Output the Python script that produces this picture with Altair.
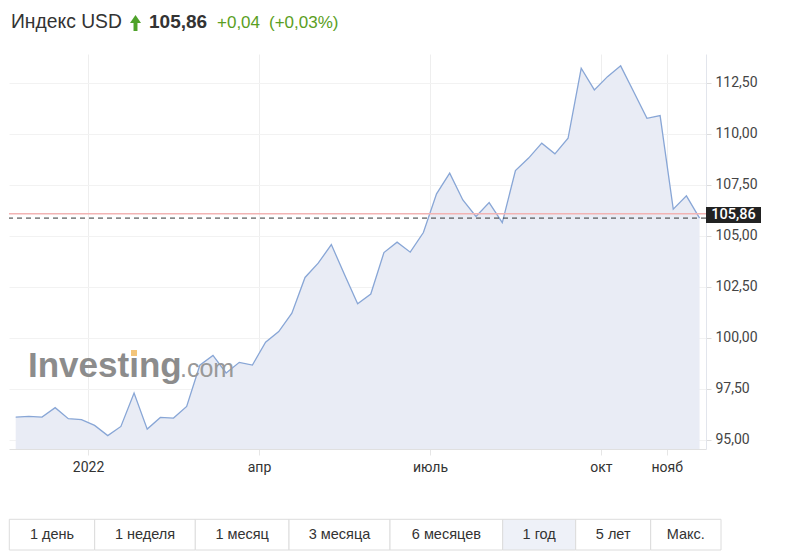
import altair as alt
import pandas as pd

# ---------------- data ----------------
usd_index = [96.11, 96.14, 96.11, 96.57, 96.03, 95.98, 95.70, 95.20, 95.65, 97.29,
             95.52, 96.09, 96.06, 96.63, 98.65, 99.13, 98.27, 98.79, 98.66, 99.78,
             100.30, 101.20, 102.95, 103.65, 104.56, 103.10, 101.66, 102.14, 104.17, 104.68,
             104.19, 105.15, 107.05, 108.06, 106.75, 105.94, 106.62, 105.64, 108.19, 108.80,
             109.53, 109.01, 109.77, 113.20, 112.14, 112.79, 113.32, 112.04, 110.75, 110.88,
             106.30, 106.95, 105.86]
week_index = list(range(len(usd_index)))
tick_pos = [5.5, 18.5, 31.5, 44.5, 49.5]
tick_labels = ["2022", "апр", "июль", "окт", "нояб"]
y_ticks = [95.0, 97.5, 100.0, 102.5, 105.0, 107.5, 110.0, 112.5]

title_name = "Индекс USD"
last_price = 105.86
change_abs = "+0,04"
change_pct = "(+0,03%)"
red_level = 106.07

periods = ["1 день", "1 неделя", "1 месяц", "3 месяца", "6 месяцев", "1 год", "5 лет", "Макс."]
selected_period = "1 год"

# ---------------- layout ----------------
W, H = 697, 395
OX, OY = 9, 54  # view origin on the page
button_edges = [9.3, 94.7, 195.3, 289, 390, 502.7, 575.7, 650.7, 721]
GREEN = "#5a9e22"

df = pd.DataFrame({"i": week_index, "v": usd_index})
xs = alt.Scale(domain=[-0.51, 52.49], nice=False, zero=False)
ys = alt.Scale(domain=[94.545, 113.9], nice=False, zero=False)

label_expr = " : ".join(f"datum.value == {p} ? '{l}'" for p, l in zip(tick_pos, tick_labels)) + " : ''"

area = alt.Chart(df).mark_area(
    color="#e9ecf5", fillOpacity=1, interpolate="linear",
    line={"color": "#88a6d6", "strokeWidth": 1.3},
).encode(
    x=alt.X("i:Q", scale=xs, axis=alt.Axis(
        values=tick_pos, labelExpr=label_expr, title=None, grid=True,
        gridColor="#eeeeee", domainColor="#e0e0e0", tickColor="#e6e6e6", tickSize=6,
        labelFont="Roboto", labelFontSize=14, labelColor="#333333", labelPadding=5,
        labelFlush=False, labelOverlap=False)),
    y=alt.Y("v:Q", scale=ys, stack=None, axis=alt.Axis(
        orient="right", values=y_ticks,
        labelExpr="replace(format(datum.value, '.2f'), '.', ',')",
        title=None, grid=True, gridColor="#f2f2f2", domainColor="#e2e5ec",
        tickColor="#dddddd", tickSize=5, labelPadding=4, labelFont="Roboto",
        labelFontSize=14, labelColor="#444444", labelFlush=False, labelOverlap=False)),
    y2=alt.value(H),
)

red_rule = alt.Chart(pd.DataFrame({"v": [red_level]})).mark_rule(
    color="#f2b3b3", strokeWidth=1.5).encode(y=alt.Y("v:Q", scale=ys))

dash_rule = alt.Chart(pd.DataFrame({"v": [last_price]})).mark_rule(
    color="#333333", strokeWidth=1, strokeDash=[5, 4]).encode(y=alt.Y("v:Q", scale=ys))

price_df = pd.DataFrame({"v": [last_price], "t": [f"{last_price:.2f}".replace(".", ",")]})
price_box = alt.Chart(price_df).mark_rect(
    color="#222222", yOffset=-11, y2Offset=5).encode(
    x=alt.value(706 - OX), x2=alt.value(761 - OX),
    y=alt.Y("v:Q", scale=ys), y2="v")
price_text = alt.Chart(price_df).mark_text(
    align="center", baseline="middle", dy=-3, color="white",
    font="Roboto", fontSize=14.5, fontWeight=500).encode(
    x=alt.value(733.5 - OX), y=alt.Y("v:Q", scale=ys), text="t:N")

one = pd.DataFrame({"a": [0]})


def label(txt, x, y, size, color, weight="normal", font="Liberation Sans", align="left"):
    return alt.Chart(one).mark_text(
        text=txt, align=align, baseline="alphabetic", fontSize=size, color=color,
        fontWeight=weight, font=font).encode(x=alt.value(x - OX), y=alt.value(y - OY))


titles = [
    label(title_name, 11, 27.5, 19.3, "#333333"),
    label(f"{last_price:.2f}".replace(".", ","), 149, 27.5, 19, "#333333", weight="bold"),
    label(change_abs, 217, 27.5, 17, GREEN),
    label(change_pct, 269, 27.5, 17, GREEN),
]
arrow = alt.Chart(one).mark_point(
    shape="M0,-1.45L1,0L0.36,0L0.36,1.45L-0.36,1.45L-0.36,0L-1,0Z",
    filled=True, color="#4ea22a", opacity=1, size=121).encode(
    x=alt.value(135.5 - OX), y=alt.value(23 - OY))

watermark = [
    label("Investing", 28, 377, 35, "#8c8c8c", weight="bold"),
    label(".com", 180, 377, 25, "#999999"),
    alt.Chart(one).mark_rect(color="#f3c57a").encode(
        x=alt.value(131 - OX), x2=alt.value(137 - OX), y=alt.value(350 - OY), y2=alt.value(356 - OY)),
]

buttons = []
for k, p in enumerate(periods):
    x0, x1 = button_edges[k], button_edges[k + 1]
    buttons.append(alt.Chart(one).mark_rect(
        fill="#eef1f8" if p == selected_period else "#ffffff",
        stroke="#dcdcdc", strokeWidth=1).encode(
        x=alt.value(x0 - OX), x2=alt.value(x1 - OX),
        y=alt.value(519.3 - OY), y2=alt.value(550 - OY)))
    buttons.append(alt.Chart(one).mark_text(
        text=p, align="center", baseline="middle", fontSize=14.5, color="#333333",
        font="Liberation Sans").encode(
        x=alt.value((x0 + x1) / 2 - OX), y=alt.value(534.5 - OY)))

chart = alt.layer(
    area, red_rule, dash_rule, price_box, price_text, arrow, *titles, *watermark, *buttons
).properties(
    width=W, height=H,
    padding={"left": 1, "top": 46, "right": 76, "bottom": 102},
    autosize=alt.AutoSizeParams(type="none"),
).configure_view(stroke=None)

chart.save("out.html", embed_options={"renderer": "svg", "actions": False})
